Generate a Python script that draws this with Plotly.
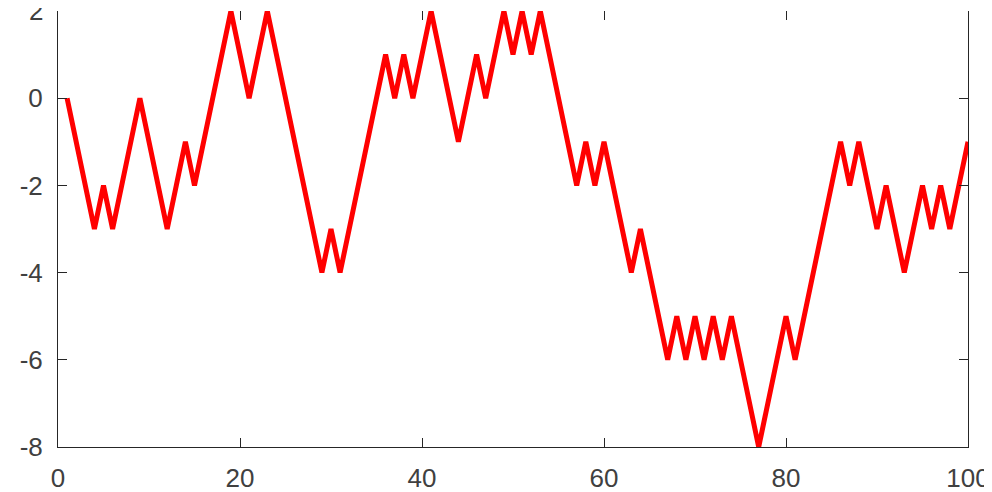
import plotly.graph_objects as go

x_vals = list(range(1, 101))
y_vals = [0, -1, -2, -3, -2, -3, -2, -1, 0, -1,
          -2, -3, -2, -1, -2, -1, 0, 1, 2, 1,
          0, 1, 2, 1, 0, -1, -2, -3, -4, -3,
          -4, -3, -2, -1, 0, 1, 0, 1, 0, 1,
          2, 1, 0, -1, 0, 1, 0, 1, 2, 1,
          2, 1, 2, 1, 0, -1, -2, -1, -2, -1,
          -2, -3, -4, -3, -4, -5, -6, -5, -6, -5,
          -6, -5, -6, -5, -6, -7, -8, -7, -6, -5,
          -6, -5, -4, -3, -2, -1, -2, -1, -2, -3,
          -2, -3, -4, -3, -2, -3, -2, -3, -2, -1]
x_ticks = [0, 20, 40, 60, 80, 100]
x_labels = ["0", "20", "40", "60", "80", "100"]
y_ticks = [-8, -6, -4, -2, 0, 2]
y_labels = ["-8", "-6", "-4", "-2", "0", "2"]

axis_color = "#262626"
font = dict(family="Liberation Sans, Arial, sans-serif", size=26, color="#404040")

fig = go.Figure()
fig.add_trace(go.Scatter(x=x_vals, y=y_vals, mode="lines",
                         line=dict(color="#ff0000", width=5), showlegend=False,
                         hoverinfo="skip"))
fig.add_trace(go.Scatter(x=[x_vals[0]], y=[y_vals[0]], xaxis="x2", mode="lines",
                         line=dict(width=0), showlegend=False, hoverinfo="skip"))

# top tick label (plotly drops the label at the very edge of the range)
fig.add_annotation(x=0, xref="paper", y=y_ticks[-1], yref="y", text=y_labels[-1],
                   showarrow=False, xanchor="right", yanchor="middle", xshift=-13,
                   font=font)

fig.update_layout(
    width=984, height=484,
    margin=dict(l=50, r=24, t=3, b=45, autoexpand=False),
    paper_bgcolor="white", plot_bgcolor="white",
    font=font,
    xaxis=dict(range=[0, 100], tickvals=x_ticks, ticktext=x_labels, ticks="inside", ticklen=9,
               tickcolor=axis_color, tickwidth=1, showline=True, linecolor=axis_color,
               linewidth=1, showgrid=False, zeroline=False, tickfont=font,
               automargin=False, ticklabelstandoff=8),
    xaxis2=dict(range=[0, 100], tickvals=x_ticks, ticks="inside", ticklen=9,
                tickcolor=axis_color, overlaying="x", side="top", showline=False,
                showticklabels=False, showgrid=False, zeroline=False, matches="x",
                automargin=False),
    yaxis=dict(range=[-8, 2], tickvals=y_ticks[:-1], ticktext=y_labels[:-1], ticks="inside", ticklen=9,
               tickcolor=axis_color, tickwidth=1, showline=True, linecolor=axis_color,
               linewidth=1, mirror="ticks", showgrid=False, zeroline=False,
               tickfont=font, ticklabelstandoff=9, automargin=False),
)

fig.write_html("out.html")
